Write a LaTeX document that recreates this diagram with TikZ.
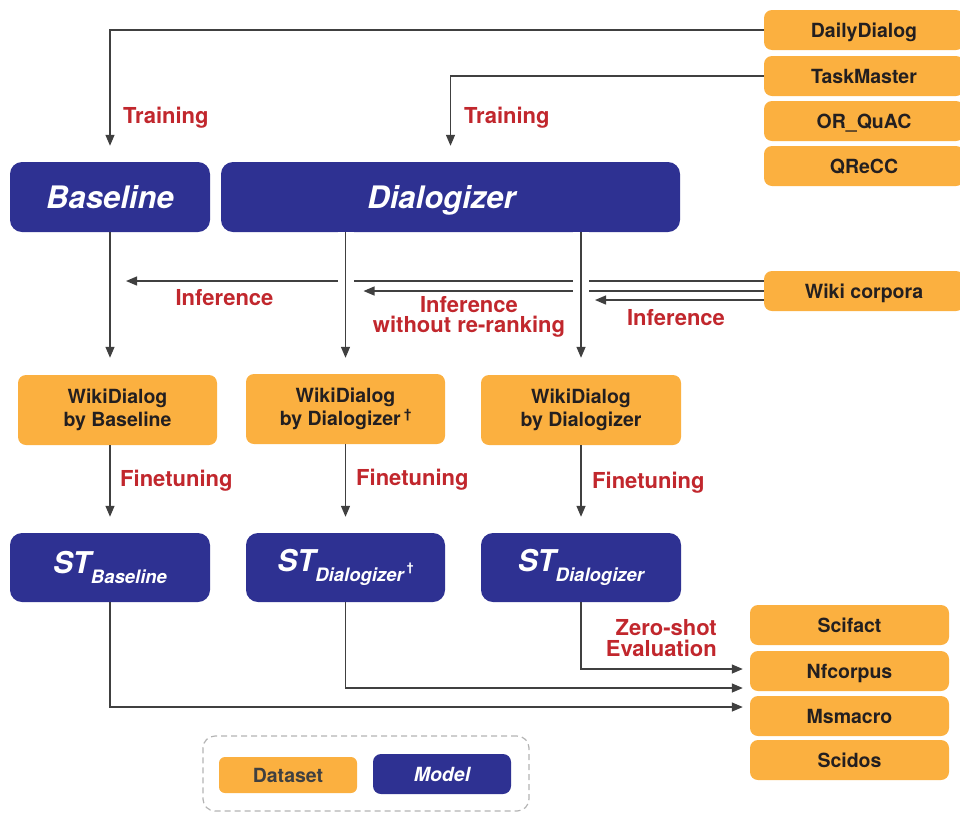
\documentclass[tikz,border=0pt]{standalone}
\usepackage{fontspec}
\setmainfont{TeX Gyre Heros}
\usetikzlibrary{arrows.meta,calc}
\definecolor{dsorange}{HTML}{FBB040}
\definecolor{mdnavy}{HTML}{2E3192}
\definecolor{lblred}{HTML}{C1272D}
\definecolor{dstext}{HTML}{231F20}
\definecolor{linegray}{HTML}{404040}
\definecolor{legendgray}{HTML}{B3B3B3}
\begin{document}
\begin{tikzpicture}[x=1pt,y=-1pt,
  dataset/.style={fill=dsorange, rounded corners=8pt, inner sep=0pt, text=dstext, align=center,
    font=\fontsize{19.5}{23.5}\selectfont\bfseries},
  oneline/.style={text height=14pt, text depth=0pt},
  model/.style={fill=mdnavy, rounded corners=12pt, inner sep=0pt, text=white,
    font=\fontsize{31}{36}\selectfont\bfseries\itshape},
  bigline/.style={text height=22.5pt, text depth=0pt},
  lbl/.style={text=lblred, inner sep=0pt, font=\fontsize{22}{20.5}\selectfont\bfseries},
  conn/.style={draw=linegray, line width=1.3pt, -{Triangle[length=11pt,width=9pt]}},
  gapline/.style={preaction={draw=white, line width=16pt, arrows=-}},
  legendbox/.style={draw=legendgray, dash pattern=on 6pt off 4pt, line width=1.2pt, rounded corners=12pt}
]
\useasboundingbox (0,0) rectangle (960,812);

% dataset boxes (top right)
\node[dataset, oneline, minimum width=200pt, minimum height=40pt] (dd) at (864,30) {DailyDialog};
\node[dataset, oneline, minimum width=200pt, minimum height=40pt] (tm) at (864,76) {TaskMaster};
\node[dataset, oneline, minimum width=200pt, minimum height=40pt] (orq) at (864,121) {OR\_QuAC};
\node[dataset, oneline, minimum width=200pt, minimum height=40pt] (qre) at (864,166) {QReCC};
\node[dataset, oneline, minimum width=200pt, minimum height=40pt] (wiki) at (864,291) {Wiki corpora};

% models
\node[model, bigline, minimum width=200pt, minimum height=70pt] (baseline) at (110,197) {Baseline};
\node[model, bigline, minimum width=459pt, minimum height=70pt] (dialogizer) at (450.5,197) {\hbox to 0pt{\hss Dialogizer\hss}\kern18pt};

% WikiDialog datasets
\node[dataset, minimum width=199pt, minimum height=70pt] (wdb) at (117.5,410) {WikiDialog\\by Baseline};
\node[dataset, minimum width=199pt, minimum height=70pt] (wdd2) at (345.5,409) {WikiDialog\\by Dialogizer\,\raisebox{0.4em}{\fontsize{13}{13}\selectfont\textdagger}};
\node[dataset, minimum width=200pt, minimum height=70pt] (wdd) at (581,410) {WikiDialog\\by Dialogizer};

% ST models
\node[model, minimum width=200pt, minimum height=69pt, font=\fontsize{30}{34}\selectfont\bfseries\itshape] (stb) at (110,567.5)
  {ST\raisebox{-10pt}{\fontsize{18.5}{18}\selectfont Baseline}};
\node[model, minimum width=199pt, minimum height=69pt, font=\fontsize{30}{34}\selectfont\bfseries\itshape] (std2) at (345.5,567.5)
  {ST\raisebox{-10pt}{\fontsize{18.5}{18}\selectfont Dialogizer\,\raisebox{0.55em}{\fontsize{12}{12}\selectfont\upshape\textdagger}}};
\node[model, minimum width=200pt, minimum height=69pt, font=\fontsize{30}{34}\selectfont\bfseries\itshape] (std) at (581,567.5)
  {ST\raisebox{-10pt}{\fontsize{18.5}{18}\selectfont Dialogizer}};

% evaluation datasets
\node[dataset, oneline, minimum width=199pt, minimum height=40pt] (sci) at (849.5,625) {Scifact};
\node[dataset, oneline, minimum width=199pt, minimum height=40pt] (nfc) at (849.5,671) {Nfcorpus};
\node[dataset, oneline, minimum width=199pt, minimum height=40pt] (msm) at (849.5,716) {Msmacro};
\node[dataset, oneline, minimum width=199pt, minimum height=40pt] (scd) at (849.5,760) {Scidos};

% legend
\node[legendbox, minimum width=326pt, minimum height=75pt, inner sep=0pt] (legend) at (366,773.5) {};
\node[dataset, oneline, minimum width=138pt, minimum height=36pt, rounded corners=6pt, text=linegray] (legds) at (288,775) {Dataset};
\node[model, oneline, minimum width=138pt, minimum height=40pt, rounded corners=8pt, font=\fontsize{19.5}{23}\selectfont\bfseries\itshape] (legmd) at (442,774) {Model};

% training arrows
\draw[conn, shorten >=16pt] (dd.west) -| (baseline.north);
\draw[conn, shorten >=16pt] (tm.west) -| (dialogizer.north);
\node[lbl, anchor=base west] (tr1) at (123,123) {Training};
\node[lbl, anchor=base west] (tr2) at (464,123) {Training};

% inference arrows (horizontal first)
\coordinate (w1) at ($(wiki.west)+(0,-10)$);
\coordinate (w3) at ($(wiki.west)+(0,9)$);
\draw[conn, shorten >=16pt] (w1) -- (w1 -| baseline.south);
\draw[conn, shorten >=18pt] (wiki.west) -- (wiki.west -| wdd2.north);
\draw[conn, shorten >=14pt] (w3) -- (w3 -| wdd.north);

% vertical inference arrows
\draw[conn, shorten >=17pt] (baseline.south) -- (baseline.south |- wdb.north);
\draw[conn, gapline, shorten >=16pt] (dialogizer.south -| wdd2.north) -- (wdd2.north);
\draw[conn, gapline, shorten >=17pt] (dialogizer.south -| wdd.north) -- (wdd.north);

\node[lbl, anchor=base] (inf1) at (224.5,305) {Inference};
\node[lbl, align=center] (inf2) at (469,317) {Inference\\without re-ranking};
\node[lbl, anchor=base] (inf3) at (676,325) {Inference};

% finetuning arrows
\draw[conn, shorten >=16pt] (wdb.south -| stb.north) -- (stb.north);
\draw[conn, shorten >=16pt] (wdd2.south) -- (std2.north);
\draw[conn, shorten >=16pt] (wdd.south) -- (std.north);
\node[lbl, anchor=base west] (ft1) at (120,486) {Finetuning};
\node[lbl, anchor=base west] (ft2) at (356,485) {Finetuning};
\node[lbl, anchor=base west] (ft3) at (592,488) {Finetuning};

% evaluation arrows
\coordinate (e1) at ($(nfc.west)+(0,-2)$);
\coordinate (e2) at ($(nfc.west)+(0,17)$);
\coordinate (e3) at ($(msm.west)+(0,-9)$);
\draw[conn, shorten >=7pt] (std.south) |- (e1);
\draw[conn, shorten >=7pt] (std2.south) |- (e2);
\draw[conn, shorten >=7pt] (stb.south) |- (e3);
\node[lbl, align=right, anchor=east, font=\fontsize{22}{21}\selectfont\bfseries] (zs) at (717,638.5) {Zero-shot\\Evaluation};
\end{tikzpicture}
\end{document}
